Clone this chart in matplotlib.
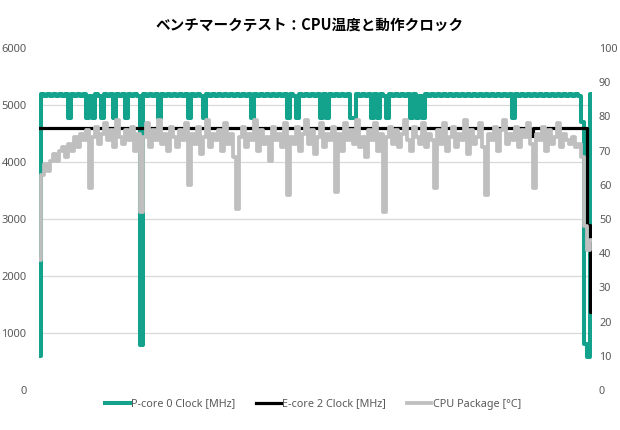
import matplotlib
matplotlib.use("Agg")
import matplotlib.pyplot as plt

plt.rcParams['font.family'] = ['Noto Sans', 'Noto Sans CJK JP', 'DejaVu Sans']

title = "ベンチマークテスト：CPU温度と動作クロック"
series_names = ["P-core 0 Clock [MHz]", "E-core 2 Clock [MHz]", "CPU Package [°C]"]
left_ticks = [0, 1000, 2000, 3000, 4000, 5000, 6000]
right_ticks = [0, 10, 20, 30, 40, 50, 60, 70, 80, 90, 100]

p_core = [
    600, 5200, 5150, 5200, 5150, 5200, 5150, 5200, 5150, 5200,
    4780, 5200, 5150, 5200, 5150, 5200, 4780, 5150, 4780, 5200,
    5150, 4780, 5200, 5150, 5200, 4780, 5200, 5150, 5200, 4780,
    5200, 5150, 5200, 5150, 790, 5200, 5150, 5200, 5150, 5200,
    4780, 5200, 5150, 5200, 5150, 5200, 5150, 5200, 5150, 5200,
    4780, 5200, 5150, 5200, 5150, 4780, 5200, 5150, 5200, 5150,
    5200, 5150, 5200, 5150, 5200, 5150, 5200, 5150, 5200, 5150,
    5200, 4780, 5200, 5150, 5200, 5150, 5200, 5150, 5200, 5150,
    5200, 5150, 5200, 4780, 5200, 5150, 4780, 5200, 5150, 5200,
    5150, 5200, 5150, 5200, 4780, 5200, 4780, 5200, 5150, 5200,
    5150, 5200, 5150, 5200, 4780, 4780, 5200, 5150, 5200, 5150,
    5200, 4780, 5200, 4780, 5200, 5150, 4780, 5200, 5150, 5200,
    5150, 5200, 5150, 5200, 4780, 5200, 4780, 5150, 4780, 5200,
    5150, 5200, 5150, 5200, 5150, 5200, 5150, 5200, 5150, 5200,
    5150, 5200, 5150, 5200, 5150, 5200, 5150, 5200, 5150, 5200,
    5150, 5200, 5150, 5200, 5150, 5200, 5150, 5200, 4780, 5200,
    5150, 5200, 5150, 5200, 5150, 5200, 5150, 5200, 5150, 5200,
    5150, 5200, 5150, 5200, 5150, 5200, 5150, 5200, 5150, 5200,
    5150, 4700, 800, 580, 5200,
]

e_core = [
    4600, 4600, 4600, 4600, 4600, 4600, 4600, 4600, 4600, 4600,
    4600, 4600, 4600, 4600, 4600, 4600, 4600, 4600, 4600, 4600,
    4600, 4600, 4600, 4600, 4600, 4600, 4600, 4600, 4600, 4600,
    4600, 4600, 4600, 4600, 4600, 4600, 4600, 4600, 4600, 4600,
    4600, 4600, 4600, 4600, 4600, 4600, 4600, 4600, 4600, 4600,
    4600, 4600, 4600, 4600, 4600, 4600, 4600, 4600, 4600, 4600,
    4600, 4600, 4600, 4600, 4600, 4600, 4600, 4600, 4600, 4600,
    4600, 4600, 4600, 4600, 4600, 4600, 4600, 4600, 4600, 4600,
    4600, 4600, 4600, 4600, 4600, 4600, 4600, 4600, 4600, 4600,
    4600, 4600, 4600, 4600, 4600, 4600, 4600, 4600, 4600, 4600,
    4600, 4600, 4600, 4600, 4600, 4600, 4600, 4600, 4600, 4600,
    4600, 4600, 4600, 4600, 4600, 4600, 4600, 4600, 4600, 4600,
    4600, 4600, 4600, 4600, 4600, 4600, 4600, 4600, 4600, 4600,
    4600, 4600, 4600, 4600, 4600, 4600, 4600, 4600, 4600, 4600,
    4600, 4600, 4600, 4600, 4600, 4600, 4600, 4600, 4600, 4600,
    4600, 4600, 4600, 4600, 4600, 4600, 4600, 4600, 4600, 4600,
    4600, 4600, 4600, 4600, 4450, 4600, 4600, 4600, 4600, 4600,
    4600, 4600, 4600, 4600, 4600, 4600, 4600, 4600, 4600, 4600,
    4600, 4600, 4600, 2900, 1370,
]

cpu_temp = [
    38, 63, 66, 64, 67, 69, 67, 70, 71, 68,
    72, 70, 74, 71, 75, 73, 76, 59, 74, 77,
    72, 75, 78, 73, 76, 71, 79, 74, 72, 76,
    73, 77, 70, 75, 52, 74, 78, 71, 76, 73,
    79, 72, 75, 70, 77, 74, 71, 76, 73, 78,
    60, 75, 72, 77, 69, 74, 79, 71, 75, 73,
    76, 70, 78, 72, 75, 68, 53, 74, 77, 71,
    75, 73, 79, 70, 76, 72, 74, 67, 77, 73,
    75, 71, 78, 57, 74, 72, 77, 70, 75, 79,
    72, 76, 69, 74, 78, 71, 75, 73, 77, 58,
    75, 70, 78, 73, 76, 72, 79, 71, 74, 68,
    76, 73, 78, 70, 75, 52, 74, 77, 72, 76,
    71, 75, 79, 73, 70, 77, 74, 72, 78, 71,
    75, 73, 59, 76, 72, 78, 70, 74, 77, 71,
    75, 73, 79, 69, 76, 72, 74, 78, 71, 57,
    75, 73, 77, 70, 76, 79, 72, 75, 73, 77,
    71, 76, 74, 78, 72, 59, 75, 73, 77, 70,
    76, 72, 74, 78, 71, 75, 73, 72, 74, 71,
    72, 68, 48, 41, 44,
]

teal = "#13a38c"
grey = "#bfbfbf"
label_col = "#595959"

fig = plt.figure(figsize=(6.2, 4.3), dpi=100)
ax = fig.add_axes([39/620, 1-390/430, (592-39)/620, (390-48)/430])
ax2 = ax.twinx()

x = list(range(len(p_core)))
ax.plot(x, p_core, color=teal, lw=2.9, drawstyle='steps-mid', label=series_names[0])
ax.plot(x, e_core, color="black", lw=2.3, drawstyle='steps-mid', label=series_names[1])
ax2.plot(x, cpu_temp, color=grey, lw=2.7, drawstyle='steps-mid', label=series_names[2])

ax.set_ylim(0, 6000)
ax2.set_ylim(0, 100)
ax.set_xlim(-0.2, len(p_core) - 0.7)
ax.set_yticks(left_ticks)
ax2.set_yticks(right_ticks)
ax.set_xticks([])

for yv in [1000, 2000, 3000, 4000, 5000]:
    ax.axhline(yv, color="#d9d9d9", lw=0.9, zorder=0)

for a in (ax, ax2):
    for s in a.spines.values():
        s.set_visible(False)
    a.tick_params(length=0, labelsize=8, labelcolor=label_col)
ax.tick_params(axis='y', pad=9)
ax2.tick_params(axis='y', pad=5, labelsize=7.8)

fig.text(0.5, 1-25/430, title, ha='center', va='center', fontsize=10.5,
         fontweight='bold', family=['Noto Sans CJK JP', 'DejaVu Sans'])

h1, l1 = ax.get_legend_handles_labels()
h2, l2 = ax2.get_legend_handles_labels()
leg = fig.legend(h1 + h2, l1 + l2, loc='center', bbox_to_anchor=(313/620, 1-404/430),
                 ncol=3, frameon=False, fontsize=7.8, handlelength=2.3,
                 handletextpad=0.1, columnspacing=1.9, labelcolor=label_col)

fig.savefig("out.png", dpi=100)
